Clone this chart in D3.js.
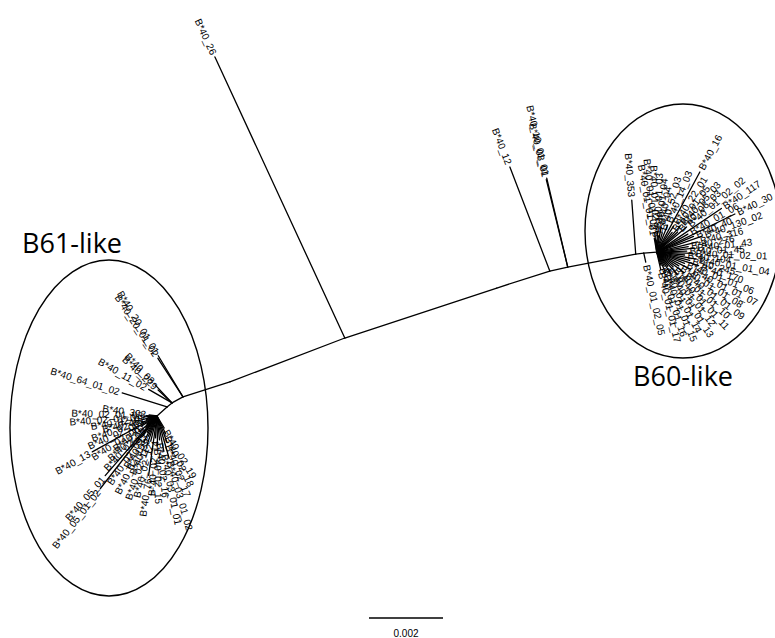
<!DOCTYPE html>
<html><head><meta charset="utf-8">
<script src="https://cdn.jsdelivr.net/npm/d3@7"></script>
<style>body{margin:0;background:#fff}svg{display:block}</style>
</head><body>
<svg id="chart" width="775" height="638"></svg>
<script>
// ---------- DATA (branch lengths in substitutions / site) ----------
// backbone chain from the B61-like hub (root) to the B60-like hub
const backboneIds = ["L0","n1","n2","n3","n4","n5","n6","n7","n8","n9","n10","R0"];
const backboneLengths = [0, 0.000365, 0.000173, 0.000338, 0.001332, 0.003324, 0.004324, 0.001505, 0.000497, 0.00187, 0.000219, 0.000351];
const backboneAngles = [0, -42, -39, -29, -17.7, -20.9, -18.2, -17.8, -12.5, -10.8, -7, -4.4];

// leaves attached along the backbone
const sideNames = ["B*40_26","B*40_12","B*40_10_01_01","B*40_08_01","B*40_353","B*40_01_02_05","B*40_20_01_01","B*40_20_01_02","B*40_08","B*40_229","B*40_11_02","B*40_64_01_02"];
const sideParents = ["n5","n7","n8","n8","n9","n10","n3","n3","n2","n2","n2","n1"];
const sideLengths = [0.008368, 0.003011, 0.00247, 0.002432, 0.001462, 0.000249, 0.001297, 0.001243, 0.000676, 0.000514, 0.00073, 0.00127];
const sideAngles = [-114.8, -111, -103.3, -103.8, -94.2, 77.5, -121, -123, -133, -137, -150, -162.7];

// B61-like cluster (leaves on hub L0)
const leftNames = ["B*40_303","B*40_02_01_03","B*40_02_01_01","B*40_02_02","B*40_46","B*40_02_04","B*40_02_05","B*40_13","B*40_02_06","B*40_07","B*40_23","B*40_02_08","B*40_05_01","B*40_05_01_02","B*40_02_09","B*40_33","B*40_02_10","B*40_39","B*40_02_11","B*40_02_12","B*40_76","B*40_02_14","B*40_02_15","B*40_02_16","B*40_03_01_01","B*40_03_01_02","B*40_02_17","B*40_02_18","B*40_02_19"];
const leftLengths = [0.000216,0.000297,0.000351,0.000243,0.000405,0.000297,0.000459,0.002,0.000514,0.000351,0.000622,0.000432,0.002135,0.002486,0.000676,0.000514,0.000784,0.000595,0.000838,0.000703,0.001622,0.000595,0.000811,0.000649,0.000973,0.001189,0.000757,0.000541,0.000378];
const leftAngles = [-172,-178,176,171,166,161,156,151,147,142,138,134,131,128,125,121,117,113,109,104,98,94,89,84,79,74,69,64,59];

// B60-like cluster (leaves on hub R0)
const rightNames = ["B*40_01_01_01","B*40_01_01_02","B*40_01_02_78","B*40_01_03","B*40_01_04","B*40_04","B*40_52_03","B*40_14_03","B*40_16","B*40_22_01","B*40_01_05","B*40_05_03","B*40_06_03","B*40_01_02_02","B*40_117","B*40_01_06","B*40_30","B*40_40","B*40_130_02","B*40_316","B*40_276","B*40_01_43","B*40_01_45","B*40_01_02_01","B*40_104","B*40_01_01_04","B*40_245","B*40_170","B*40_01_01_06","B*40_01_01_07","B*40_01_01_08","B*40_01_01_09","B*40_01_01_10","B*40_01_01_11","B*40_01_01_12","B*40_01_01_13","B*40_01_01_14","B*40_01_01_15","B*40_01_01_16","B*40_01_01_17"];
const rightLengths = [0.000378,0.000514,0.000324,0.000568,0.000432,0.000676,0.000541,0.000784,0.002459,0.000838,0.000676,0.000946,0.000784,0.001054,0.002108,0.000973,0.002351,0.001081,0.0013,0.001135,0.000865,0.001027,0.000811,0.000973,0.000757,0.001081,0.000919,0.001189,0.000811,0.001027,0.000703,0.000919,0.000595,0.000811,0.000486,0.000703,0.000432,0.000595,0.000378,0.000486];
const rightAngles = [-100,-96,-92,-88,-84,-80,-74,-68,-61.7,-57,-52,-48,-44,-40,-34,-30,-26,-23,-19.5,-14,-10,-6,-2,2,6,10,14,18,22,27,32,37,42,47,52,57,62,67,72,77];

const cladeLabels = ["B61-like","B60-like"];
const scaleBarValue = 0.002;

// ---------- LAYOUT ----------
const svg = d3.select("#chart");
const x = d3.scaleLinear().domain([0, 0.002]).range([157, 231]);
const y = d3.scaleLinear().domain([0, 0.002]).range([416, 490]);
const rad = Math.PI / 180;

const pos = {};
const edges = [];
const leaves = [];
backboneIds.forEach((id, i) => {
  if (i === 0) { pos[id] = [0, 0]; return; }
  const p = pos[backboneIds[i - 1]];
  const a = backboneAngles[i] * rad;
  pos[id] = [p[0] + backboneLengths[i] * Math.cos(a), p[1] + backboneLengths[i] * Math.sin(a)];
  edges.push([p, pos[id]]);
});
function addLeaf(name, parent, len, ang) {
  const p = pos[parent], a = ang * rad;
  const t = [p[0] + len * Math.cos(a), p[1] + len * Math.sin(a)];
  edges.push([p, t]);
  leaves.push({name, tip: t, ang});
}
sideNames.forEach((n, i) => addLeaf(n, sideParents[i], sideLengths[i], sideAngles[i]));
leftNames.forEach((n, i) => addLeaf(n, "L0", leftLengths[i], leftAngles[i]));
rightNames.forEach((n, i) => addLeaf(n, "R0", rightLengths[i], rightAngles[i]));

// clade ellipses
svg.append("ellipse").attr("cx", 109).attr("cy", 428).attr("rx", 99).attr("ry", 168)
  .attr("fill", "none").attr("stroke", "#000").attr("stroke-width", 1.4);
svg.append("ellipse").attr("cx", 683).attr("cy", 231).attr("rx", 98).attr("ry", 127)
  .attr("fill", "none").attr("stroke", "#000").attr("stroke-width", 1.4);

// branches
svg.append("g").selectAll("line").data(edges).join("line")
  .attr("x1", d => x(d[0][0])).attr("y1", d => y(d[0][1]))
  .attr("x2", d => x(d[1][0])).attr("y2", d => y(d[1][1]))
  .attr("stroke", "#000").attr("stroke-width", 1.3).attr("stroke-linecap", "round");

// tip labels
svg.append("g").selectAll("text").data(leaves).join("text")
  .attr("transform", d => {
    const a = d.ang * rad;
    const px = x(d.tip[0]) + 3 * Math.cos(a), py = y(d.tip[1]) + 3 * Math.sin(a);
    const r = Math.cos(a) >= -1e-6 ? d.ang : d.ang + 180;
    return `translate(${px},${py}) rotate(${r})`;
  })
  .attr("text-anchor", d => Math.cos(d.ang * rad) >= -1e-6 ? "start" : "end")
  .attr("dy", "0.35em")
  .attr("fill", "#000")
  .style("font-family", "'Liberation Sans', Arial, sans-serif")
  .style("font-size", "10px")
  .text(d => d.name);

// clade labels
svg.append("text").attr("x", 22).attr("y", 253).text(cladeLabels[0])
  .style("font-family", "'Open Sans', sans-serif").style("font-size", "27px");
svg.append("text").attr("x", 633).attr("y", 386).text(cladeLabels[1])
  .style("font-family", "'Open Sans', sans-serif").style("font-size", "27px");

// scale bar
const barLen = x(scaleBarValue) - x(0);
svg.append("line").attr("x1", 369).attr("x2", 369 + barLen).attr("y1", 618).attr("y2", 618)
  .attr("stroke", "#000").attr("stroke-width", 1.3);
svg.append("text").attr("x", 369 + barLen / 2).attr("y", 637).attr("text-anchor", "middle")
  .style("font-family", "'Liberation Sans', Arial, sans-serif").style("font-size", "10px")
  .text(scaleBarValue);
</script>
</body></html>
